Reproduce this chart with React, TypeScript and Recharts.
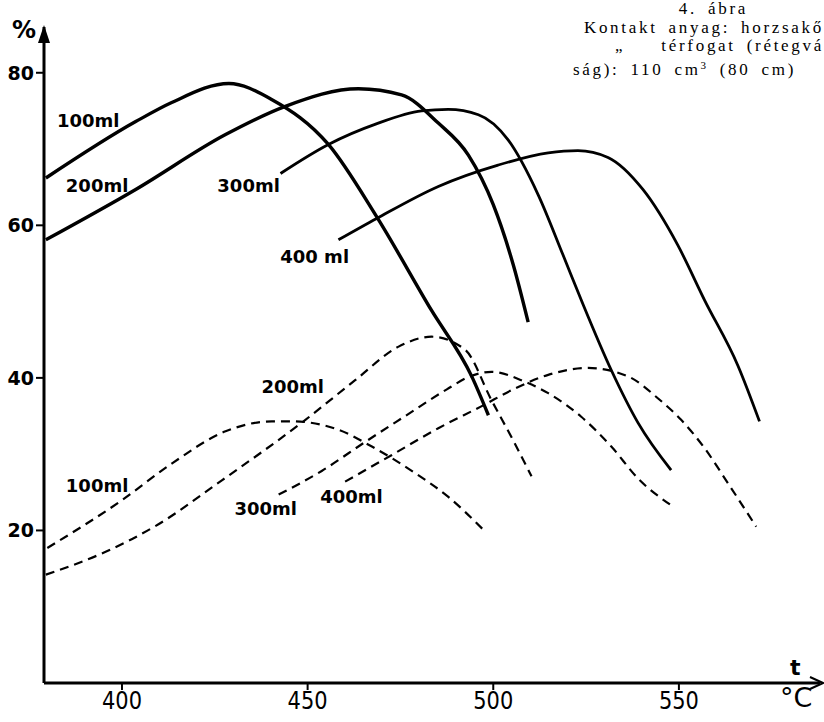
import React from "react";
import { LineChart, Line, XAxis, YAxis, ReferenceDot } from "recharts";

// solid curves (upper group), t in °C, v in %
const solid100 = [
  { t: 379.5, v: 66.2 }, { t: 403.7, v: 73.6 }, { t: 413.4, v: 76.1 }, { t: 428.8, v: 78.6 },
  { t: 440.3, v: 76.5 }, { t: 455.6, v: 70.6 }, { t: 468.5, v: 61.2 }, { t: 483.3, v: 48.9 },
  { t: 494.2, v: 40.2 }, { t: 498.7, v: 35.1 },
];
const solid200 = [
  { t: 379.5, v: 58.1 }, { t: 403.7, v: 64.7 }, { t: 427.9, v: 71.9 }, { t: 444.0, v: 75.6 },
  { t: 463.7, v: 77.9 }, { t: 475.3, v: 77.1 }, { t: 485.2, v: 73.4 }, { t: 493.3, v: 69.2 },
  { t: 500.0, v: 62.7 }, { t: 505.4, v: 54.8 }, { t: 509.4, v: 47.3 },
];
const solid300 = [
  { t: 442.7, v: 66.8 }, { t: 455.6, v: 70.6 }, { t: 468.5, v: 73.3 }, { t: 480.7, v: 75.0 },
  { t: 487.9, v: 75.2 }, { t: 496.0, v: 74.5 }, { t: 504.0, v: 71.2 }, { t: 512.1, v: 64.0 },
  { t: 518.8, v: 56.1 }, { t: 523.7, v: 50.2 }, { t: 531.8, v: 41.0 }, { t: 539.0, v: 34.1 },
  { t: 547.9, v: 27.9 },
];
const solid400 = [
  { t: 458.3, v: 58.1 }, { t: 468.6, v: 60.9 }, { t: 485.2, v: 65.1 }, { t: 501.3, v: 67.9 },
  { t: 514.8, v: 69.5 }, { t: 522.8, v: 69.8 }, { t: 530.9, v: 68.9 }, { t: 540.3, v: 64.7 },
  { t: 549.7, v: 57.4 }, { t: 556.9, v: 50.2 }, { t: 565.9, v: 41.6 }, { t: 571.7, v: 34.3 },
];

// dashed curves (lower group)
const dashed100 = [
  { t: 379.9, v: 17.7 }, { t: 400.1, v: 24.0 }, { t: 413.5, v: 28.8 }, { t: 427.9, v: 33.0 },
  { t: 440.4, v: 34.3 }, { t: 445.8, v: 34.3 }, { t: 458.3, v: 33.2 }, { t: 467.3, v: 31.0 },
  { t: 479.0, v: 27.5 }, { t: 487.9, v: 24.4 }, { t: 497.3, v: 20.1 },
];
const dashed200 = [
  { t: 379.5, v: 14.2 }, { t: 395.6, v: 17.2 }, { t: 409.1, v: 20.6 }, { t: 427.0, v: 26.6 },
  { t: 449.4, v: 34.5 }, { t: 462.8, v: 39.7 }, { t: 474.5, v: 44.1 }, { t: 483.4, v: 45.4 },
  { t: 492.4, v: 43.7 }, { t: 499.5, v: 37.1 }, { t: 505.8, v: 31.4 }, { t: 510.3, v: 27.1 },
];
const dashed300 = [
  { t: 442.2, v: 24.7 }, { t: 453.8, v: 27.8 }, { t: 465.5, v: 31.6 }, { t: 476.3, v: 35.0 },
  { t: 487.5, v: 38.5 }, { t: 493.3, v: 40.1 }, { t: 499.5, v: 40.8 }, { t: 508.5, v: 39.5 },
  { t: 514.8, v: 38.0 }, { t: 523.7, v: 34.9 }, { t: 531.8, v: 31.0 }, { t: 539.0, v: 26.8 },
  { t: 547.9, v: 23.3 },
];
const dashed400 = [
  { t: 460.1, v: 26.4 }, { t: 472.7, v: 29.9 }, { t: 485.2, v: 33.4 }, { t: 496.9, v: 36.3 },
  { t: 505.8, v: 38.6 }, { t: 514.8, v: 40.4 }, { t: 525.5, v: 41.3 }, { t: 536.3, v: 40.2 },
  { t: 544.4, v: 37.3 }, { t: 550.6, v: 34.5 }, { t: 556.9, v: 30.8 }, { t: 563.2, v: 26.2 },
  { t: 570.8, v: 20.5 },
];

const xTicks = [400, 450, 500, 550];
const yTicks = [20, 40, 60, 80];

const curveLabels = [
  { t: 390.9, v: 73.8, text: "100ml" },
  { t: 393.3, v: 65.3, text: "200ml" },
  { t: 434.1, v: 65.3, text: "300ml" },
  { t: 451.9, v: 56.0, text: "400 ml" },
  { t: 446.0, v: 39.0, text: "200ml" },
  { t: 393.3, v: 26.0, text: "100ml" },
  { t: 438.7, v: 23.0, text: "300ml" },
  { t: 461.8, v: 24.5, text: "400ml" },
];

const hand = "'DejaVu Sans', sans-serif";

const XTick = (props: any) => {
  const { x, y, payload } = props;
  return (
    <text x={x} y={y + 17} textAnchor="middle" fontFamily={hand} fontSize={25}
      textLength={40} lengthAdjust="spacingAndGlyphs" fill="#000">
      {payload.value}
    </text>
  );
};

const YTick = (props: any) => {
  const { x, y, payload } = props;
  return (
    <text x={x} y={y + 7} textAnchor="end" fontFamily={hand} fontWeight="bold" fontSize={19} fill="#000">
      {payload.value}
    </text>
  );
};

const solidStyle = { stroke: "#000", strokeWidth: 3, dot: false, isAnimationActive: false, type: "monotone" as const };
const dashStyle = { ...solidStyle, strokeWidth: 2.2, strokeDasharray: "9 6" };

const titleLine = { whiteSpace: "nowrap" as const, height: 18.5 };

const App = () => {
  return (
    <div style={{ position: "absolute", left: 0, top: 0, width: 824, height: 722, background: "#fff", overflow: "hidden" }}>
      <LineChart width={824} height={722} margin={{ top: 27, right: 4, bottom: 0, left: 0 }}>
        <XAxis dataKey="t" type="number" domain={[379, 588]} ticks={xTicks} allowDataOverflow
          axisLine={{ stroke: "#000", strokeWidth: 3 }} tickLine={{ stroke: "#000", strokeWidth: 2 }}
          tickSize={7} height={39} tick={<XTick />} />
        <YAxis type="number" domain={[0, 86]} ticks={yTicks} allowDataOverflow width={44}
          axisLine={{ stroke: "#000", strokeWidth: 3 }} tickLine={{ stroke: "#000", strokeWidth: 2 }}
          tickSize={8} tick={<YTick />} />
        <Line data={solid100} dataKey="v" {...solidStyle} strokeWidth={3.4} />
        <Line data={solid200} dataKey="v" {...solidStyle} strokeWidth={3.4} />
        <Line data={solid300} dataKey="v" {...solidStyle} strokeWidth={2.8} />
        <Line data={solid400} dataKey="v" {...solidStyle} strokeWidth={2.8} />
        <Line data={dashed100} dataKey="v" {...dashStyle} />
        <Line data={dashed200} dataKey="v" {...dashStyle} />
        <Line data={dashed300} dataKey="v" {...dashStyle} />
        <Line data={dashed400} dataKey="v" {...dashStyle} />
        {curveLabels.map((l, i) => (
          <ReferenceDot key={i} x={l.t} y={l.v} r={0} ifOverflow="visible"
            shape={(p: any) => (
              <text x={p.cx} y={p.cy + 7} textAnchor="middle" fontFamily={hand}
                fontWeight="bold" fontSize={18} fill="#000">{l.text}</text>
            )} />
        ))}
        <ReferenceDot x={379} y={86} r={0} ifOverflow="visible"
          shape={(p: any) => <path d={`M${p.cx - 6},${p.cy + 16} L${p.cx},${p.cy - 2} L${p.cx + 6},${p.cy + 16} Z`} fill="#000" />} />
        <ReferenceDot x={588} y={0} r={0} ifOverflow="visible"
          shape={(p: any) => <path d={`M${p.cx - 10},${p.cy - 6} L${p.cx + 3},${p.cy} L${p.cx - 10},${p.cy + 6}`} fill="none" stroke="#000" strokeWidth={2} />} />
      </LineChart>
      <div style={{ position: "absolute", left: 12, top: 16, fontFamily: hand, fontWeight: "bold", fontSize: 24 }}>%</div>
      <div style={{ position: "absolute", left: 790, top: 655, fontFamily: hand, fontWeight: "bold", fontSize: 22 }}>t</div>
      <div style={{ position: "absolute", left: 780, top: 682, fontFamily: hand, fontSize: 27 }}>°C</div>
      <div style={{ position: "absolute", right: 0, top: 0, width: 320, fontFamily: "'Liberation Serif', serif",
        fontSize: 17, lineHeight: "18.5px", color: "#000", textAlign: "right", wordSpacing: 4, letterSpacing: 2.7 }}>
        <div style={{ ...titleLine, paddingRight: 76 }}>4. ábra</div>
        <div style={titleLine}>Kontakt anyag: horzsakő</div>
        <div style={titleLine}>
          <span style={{ marginRight: 36 }}>„</span>térfogat (rétegvá
        </div>
        <div style={{ ...titleLine, paddingRight: 28 }}>
          ság): 110 cm<span style={{ fontSize: 11, verticalAlign: 6 }}>3</span> (80 cm)
        </div>
      </div>
    </div>
  );
};

export default App;
